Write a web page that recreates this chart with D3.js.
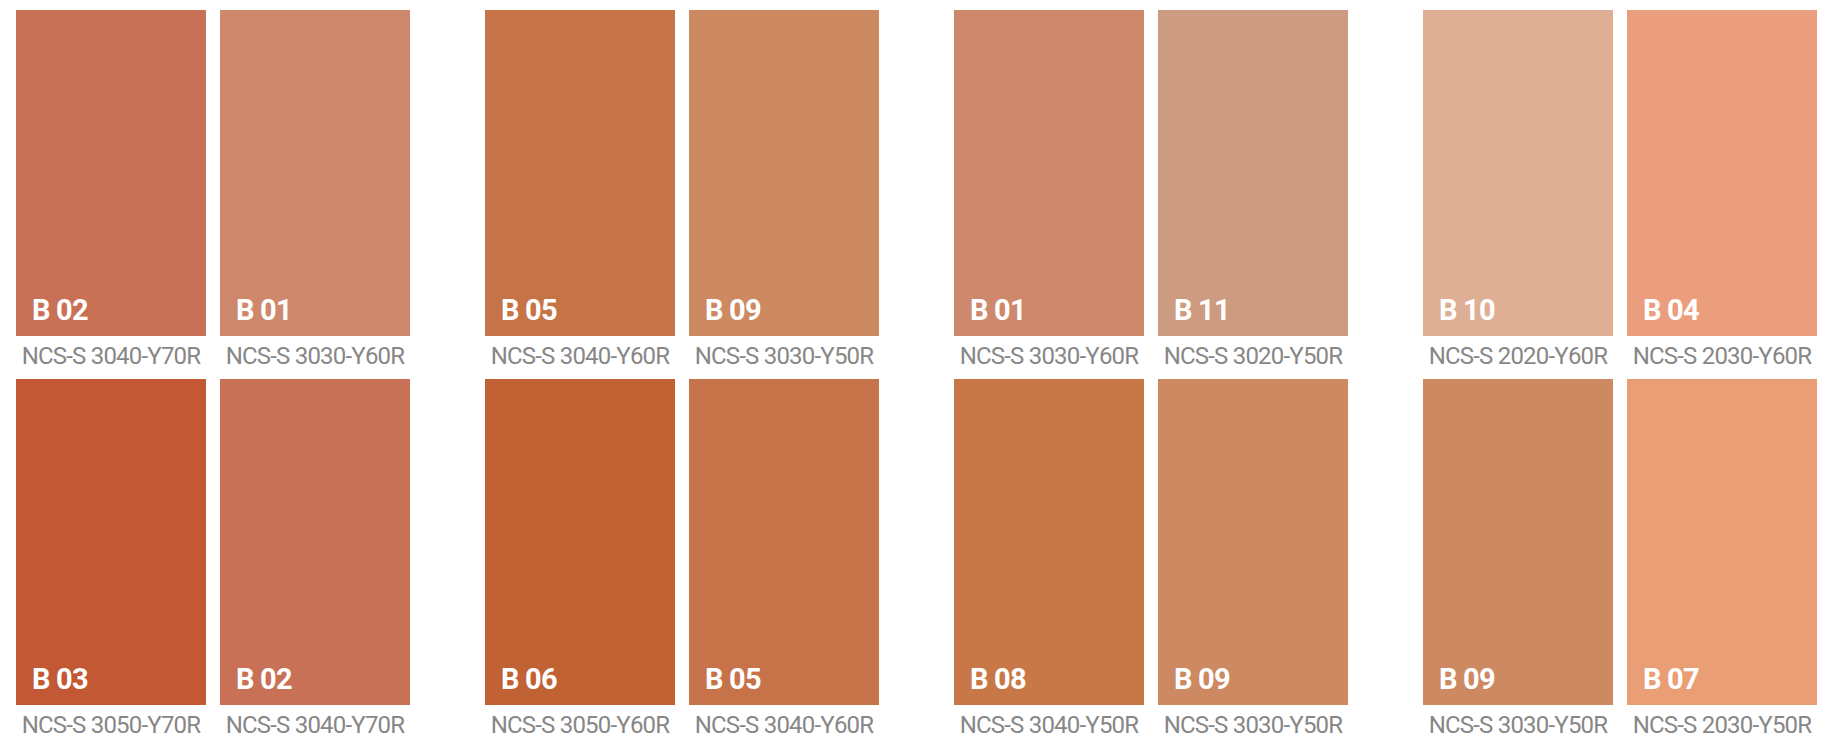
<!DOCTYPE html>
<html>
<head>
<meta charset="utf-8">
<script src="https://cdn.jsdelivr.net/npm/d3@7"></script>
<style>
  html, body { margin: 0; padding: 0; background: #fff; overflow: hidden; }
</style>
</head>
<body>
<div id="chart"></div>
<script>
// swatches listed per group, row by row (left, right)
const groups = [0, 1, 2, 3];
const rows = [0, 1];
const cols = [0, 1];

const codes = [
  "B 02", "B 01", "B 03", "B 02",
  "B 05", "B 09", "B 06", "B 05",
  "B 01", "B 11", "B 08", "B 09",
  "B 10", "B 04", "B 09", "B 07"
];

const ncsNames = [
  "NCS-S 3040-Y70R", "NCS-S 3030-Y60R", "NCS-S 3050-Y70R", "NCS-S 3040-Y70R",
  "NCS-S 3040-Y60R", "NCS-S 3030-Y50R", "NCS-S 3050-Y60R", "NCS-S 3040-Y60R",
  "NCS-S 3030-Y60R", "NCS-S 3020-Y50R", "NCS-S 3040-Y50R", "NCS-S 3030-Y50R",
  "NCS-S 2020-Y60R", "NCS-S 2030-Y60R", "NCS-S 3030-Y50R", "NCS-S 2030-Y50R"
];

const swatchColors = [
  "#c97156", "#ce896c", "#c25834", "#c97156",
  "#c67347", "#cd8962", "#c06234", "#c67349",
  "#ce886c", "#cd9b7f", "#c87846", "#cd8962",
  "#dfaf95", "#eb9e7d", "#cd8962", "#ea9e76"
];

var width = 1842, height = 738;

const svg = d3.select("#chart")
    .append("svg")
    .attr("width", width)
    .attr("height", height);

var data = [];
groups.forEach(function(g) {
    rows.forEach(function(r) {
        cols.forEach(function(c) {
            var i = g * 4 + r * 2 + c;
            data.push({ group: g, row: r, col: c, code: codes[i], ncs: ncsNames[i], color: swatchColors[i] });
        });
    });
});

// group position
var xGroup = d3.scaleLinear()
    .domain([0, 3])
    .range([16, 1423]);

// left / right swatch inside a group
var xCol = d3.scaleBand()
    .domain(cols)
    .range([0, 394])
    .paddingInner(14 / 204);

var yRow = d3.scaleBand()
    .domain(rows)
    .range([10, 705])
    .paddingInner(43 / 369);

var cell = svg.selectAll("g.swatch")
    .data(data)
    .enter()
    .append("g")
    .attr("class", "swatch")
    .attr("transform", function(d) {
        return "translate(" + (xGroup(d.group) + xCol(d.col)) + "," + yRow(d.row) + ")";
    });

cell.append("rect")
    .attr("width", xCol.bandwidth())
    .attr("height", yRow.bandwidth())
    .attr("fill", function(d) { return d.color; });

cell.append("text")
    .attr("x", 16)
    .attr("y", yRow.bandwidth() - 16)
    .style("font-family", "Roboto, 'Noto Sans', sans-serif")
    .style("font-weight", "bold")
    .style("font-size", "29px")
    .style("letter-spacing", "-0.8px")
    .style("fill", "#ffffff")
    .text(function(d) { return d.code; });

cell.append("text")
    .attr("x", xCol.bandwidth() / 2)
    .attr("y", yRow.bandwidth() + 28)
    .attr("text-anchor", "middle")
    .style("font-family", "Roboto, 'Noto Sans', sans-serif")
    .style("font-size", "24px")
    .style("letter-spacing", "-0.8px")
    .style("fill", "#878787")
    .text(function(d) { return d.ncs; });
</script>
</body>
</html>
